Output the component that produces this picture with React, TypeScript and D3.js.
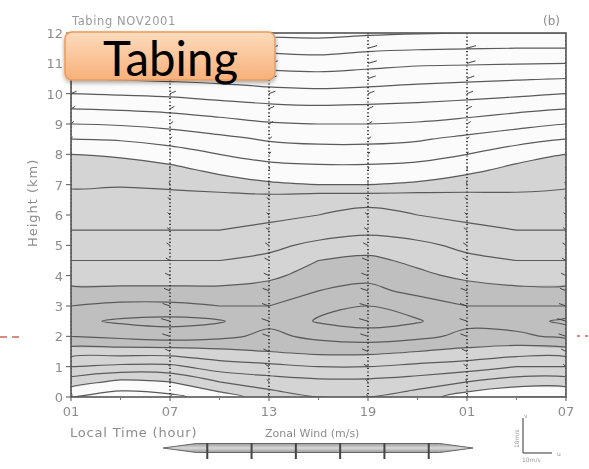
import React from "react";
import * as d3 from "d3";

// sampling grid of the zonal wind field (m/s)
const hours = [1, 4, 7, 10, 13, 16, 19, 22, 25, 28, 31];
const heights = [0, 0.5, 1, 1.5, 2, 2.5, 3, 3.5, 4, 4.5, 5, 5.5, 6, 6.5, 7, 7.5, 8, 8.5, 9, 9.5, 10, 10.5, 11, 11.5, 12];
const windRows = [
  [2, 3, 2.5, 1, -1, -2, -2, -1, 1, 2, 2],
  [-1, 0.5, 0, -2, -3, -3.5, -3.5, -3, -2, -1, -1],
  [-4, -3.5, -3.5, -5, -5.5, -6, -6, -5.5, -5, -4, -4],
  [-7, -7, -7, -7.5, -8, -8.5, -8.5, -8, -7.5, -7, -7],
  [-10, -10.5, -11, -10.5, -9.5, -10.5, -11, -10.5, -9.5, -9.5, -10.5],
  [-11.5, -12.3, -12.6, -12.2, -10.5, -12.2, -12.8, -12.2, -10.5, -11, -12.5],
  [-10, -10.5, -10.5, -10, -10, -11.5, -12, -11, -10, -10, -10],
  [-8.5, -8.5, -8.5, -8.5, -9, -10, -10.5, -9.5, -9, -8.5, -8.5],
  [-7, -7, -7, -7, -7.5, -9, -9.5, -8.5, -7.5, -7, -7],
  [-6, -6, -6, -6, -6.5, -8, -8.5, -7.5, -6.5, -6, -6],
  [-5, -5, -5, -5, -5.5, -6.5, -7, -6.5, -5.5, -5, -5],
  [-4, -4, -4, -4, -4.5, -5, -5.5, -5, -4.5, -4, -4],
  [-3.5, -3.5, -3.5, -3.5, -3.5, -4, -4.5, -4, -3.5, -3.5, -3.5],
  [-2.5, -3, -3, -3, -3, -3.5, -3.5, -3.5, -3, -2.5, -2.5],
  [-1.8, -1.8, -1.5, -1, -0.3, 0, 0, -0.3, -1, -1.5, -1.8],
  [-1, -1, -0.5, 0.5, 1.2, 1.5, 1.5, 1.2, 0.5, -0.5, -1],
  [0, 0.3, 1, 2, 2.8, 3, 3, 2.8, 2, 0.8, 0],
  [2, 2.2, 2.8, 3.5, 4.2, 4.5, 4.5, 4.2, 3.5, 2.8, 2],
  [4, 4.2, 4.6, 5.2, 5.8, 6, 6, 5.8, 5.3, 4.6, 4],
  [6, 6.2, 6.5, 7, 7.4, 7.6, 7.5, 7.3, 7, 6.5, 6],
  [8, 8.2, 8.4, 8.8, 9.2, 9.4, 9.2, 9, 8.7, 8.4, 8],
  [10, 10.2, 10.4, 10.6, 11, 11.2, 11, 10.6, 10.4, 10.2, 10],
  [12, 12.1, 12.3, 12.5, 12.8, 13, 12.6, 12.3, 12.2, 12.1, 12],
  [14, 14.1, 14.2, 14.4, 14.6, 14.8, 14.4, 14.2, 14.1, 14, 14],
  [16, 16, 16.1, 16.3, 16.5, 16.6, 16.3, 16.1, 16, 16, 16],
];

const lineLevels = [-12, -10, -8, -6, -4, -2, 0, 2, 4, 6, 8, 10, 12, 14, 16];
const shadeLevels = [0, -8]; // easterly -> light grey, below -8 -> darker
const shadeColors = ["#d4d4d4", "#bfbfbf"];
const vectorHours = [1, 7, 13, 19, 25, 31];
const hourTicks = [1, 7, 13, 19, 25, 31];
const hourLabels = ["01", "07", "13", "19", "01", "07"];
const minorHours = [4, 10, 16, 22, 28];
const heightTicks = [0, 1, 2, 3, 4, 5, 6, 7, 8, 9, 10, 11, 12];
const barTicks = [-10, -6, -2, 2, 6, 10];

const W = 589;
const H = 469;
const plot = { left: 71, right: 566, top: 33, bottom: 397 };

export default function App() {
  const x = d3.scaleLinear().domain([1, 31]).range([plot.left, plot.right]);
  const y = d3.scaleLinear().domain([0, 12]).range([plot.bottom, plot.top]);

  const nx = hours.length;
  const ny = heights.length;
  const dh = hours[1] - hours[0];
  const dz = heights[1] - heights[0];
  const values = windRows.flat();
  const negValues = values.map((v) => -v);

  const contours = d3.contours().size([nx, ny]);
  const line = d3
    .line<number[]>()
    .x((p) => x(hours[0] + (p[0] - 0.5) * dh))
    .y((p) => y(heights[0] + (p[1] - 0.5) * dz))
    .curve(d3.curveCatmullRomClosed.alpha(0.5));

  const ringPaths = (geo: any) => {
    const out: string[] = [];
    geo.coordinates.forEach((poly: number[][][]) => {
      let d = "";
      poly.forEach((ring) => {
        d += line(ring.slice(0, ring.length - 1)) || "";
      });
      out.push(d);
    });
    return out;
  };

  const shades = shadeLevels.map((lv, i) => ({
    color: shadeColors[i],
    paths: ringPaths(contours.contour(negValues, -lv)),
  }));
  const lines = lineLevels.map((lv) => ringPaths(contours.contour(values, lv)));

  const barX = d3.scaleLinear().domain([-14, 14]).range([163, 473]);

  return (
    <svg
      width={W}
      height={H}
      style={{ position: "absolute", left: 0, top: 0, background: "#fff" }}
      fontFamily="DejaVu Sans, sans-serif"
    >
      <defs>
        <clipPath id="plotclip">
          <rect x={plot.left} y={plot.top} width={plot.right - plot.left} height={plot.bottom - plot.top} />
        </clipPath>
        <filter id="soft">
          <feGaussianBlur stdDeviation="0.45" />
        </filter>
        <linearGradient id="boxgrad" x1="0" y1="0" x2="0" y2="1">
          <stop offset="0" stopColor="#fddcbd" />
          <stop offset="1" stopColor="#f7b07a" />
        </linearGradient>
        <linearGradient id="bargrad" x1="0" y1="0" x2="0" y2="1">
          <stop offset="0" stopColor="#9a9a9a" />
          <stop offset="0.5" stopColor="#d8d8d8" />
          <stop offset="1" stopColor="#9a9a9a" />
        </linearGradient>
        <filter id="shadow" x="-10%" y="-20%" width="120%" height="150%">
          <feDropShadow dx="0" dy="2" stdDeviation="2" floodColor="#000" floodOpacity="0.35" />
        </filter>
      </defs>

      <g filter="url(#soft)">
        <g clipPath="url(#plotclip)">
          <rect x={plot.left} y={plot.top} width={plot.right - plot.left} height={plot.bottom - plot.top} fill="#fbfbfb" />
          {shades.map((s, i) =>
            s.paths.map((d, j) => <path key={`s${i}-${j}`} d={d} fill={s.color} fillRule="evenodd" />)
          )}
          {lines.map((ps, i) =>
            ps.map((d, j) => (
              <path key={`l${i}-${j}`} d={d} fill="none" stroke="#5a5a5a" strokeWidth={1.2} />
            ))
          )}
          {vectorHours.map((hr) => {
            const ci = hours.indexOf(hr);
            const cx = x(hr);
            return (
              <g key={`v${hr}`}>
                <line x1={cx} x2={cx} y1={plot.top} y2={plot.bottom} stroke="#333" strokeWidth={1.8} strokeDasharray="1.2,2.4" />
                {heights.map((hz, r) => {
                  const u = windRows[r][ci];
                  const len = Math.max(-9, Math.min(9, u * 0.7));
                  return (
                    <line
                      key={hz}
                      x1={cx}
                      y1={y(hz)}
                      x2={cx + len}
                      y2={y(hz) - 2.5}
                      stroke="#444"
                      strokeWidth={1}
                    />
                  );
                })}
              </g>
            );
          })}
        </g>

        {/* frame and axes */}
        <rect x={plot.left} y={plot.top} width={plot.right - plot.left} height={plot.bottom - plot.top} fill="none" stroke="#555" strokeWidth={1.6} />
        {heightTicks.map((t) => (
          <g key={`yt${t}`}>
            <line x1={plot.left - 5} x2={plot.left} y1={y(t)} y2={y(t)} stroke="#555" />
            <text x={plot.left - 8} y={y(t) + 5} fontSize={13} fill="#8c8c8c" textAnchor="end">
              {t}
            </text>
          </g>
        ))}
        {hourTicks.map((t, i) => (
          <g key={`xt${i}`}>
            <line x1={x(t)} x2={x(t)} y1={plot.bottom} y2={plot.bottom + 4} stroke="#555" />
            <text x={x(t)} y={plot.bottom + 19} fontSize={13} fill="#8c8c8c" textAnchor="middle">
              {hourLabels[i]}
            </text>
          </g>
        ))}
        {minorHours.map((t) => (
          <line key={`mx${t}`} x1={x(t)} x2={x(t)} y1={plot.bottom} y2={plot.bottom + 3} stroke="#777" />
        ))}

        <text x={72} y={25} fontSize={11.5} fill="#9a9a9a" letterSpacing={0.6}>
          Tabing  NOV2001
        </text>
        <text x={560} y={25} fontSize={12} fill="#8c8c8c" textAnchor="end">
          (b)
        </text>
        <text
          transform={`translate(37,${y(6.4)}) rotate(-90)`}
          fontSize={13}
          fill="#8c8c8c"
          textAnchor="middle"
          letterSpacing={1}
        >
          Height (km)
        </text>
        <text x={70} y={437} fontSize={13} fill="#8c8c8c" letterSpacing={0.8}>
          Local Time (hour)
        </text>
        <text x={265} y={437} fontSize={11} fill="#8c8c8c">
          Zonal Wind (m/s)
        </text>

        {/* colour bar */}
        <path
          d={`M${barX(-14)},${448} L${barX(-11)},${443.5} L${barX(11)},${443.5} L${barX(14)},${448} L${barX(11)},${452.5} L${barX(-11)},${452.5} Z`}
          fill="url(#bargrad)"
          stroke="#666"
          strokeWidth={1}
        />
        {barTicks.map((t) => (
          <line key={`bt${t}`} x1={barX(t)} x2={barX(t)} y1={443} y2={459} stroke="#444" strokeWidth={2} />
        ))}

        {/* vector scale */}
        <line x1={523} x2={523} y1={418} y2={453} stroke="#777" strokeWidth={1.5} />
        <line x1={523} x2={552} y1={453} y2={453} stroke="#777" strokeWidth={1.5} />
        <text x={524} y={418} fontSize={6} fill="#999">v</text>
        <text x={557} y={456} fontSize={6} fill="#999">u</text>
        <text x={522} y={462} fontSize={6} fill="#999">10m/s</text>
        <text transform="translate(519,448) rotate(-90)" fontSize={6} fill="#999">10m/s</text>
      </g>

      {/* slide decoration */}
      <line x1={0} x2={20} y1={337} y2={337} stroke="#d0654f" strokeWidth={1.5} strokeDasharray="7,5" />
      <line x1={577} x2={589} y1={336} y2={336} stroke="#d0654f" strokeWidth={1.5} strokeDasharray="3,5" />

      <g filter="url(#shadow)">
        <rect x={65} y={32} width={210} height={48} rx={7} fill="url(#boxgrad)" stroke="#e99a5c" strokeWidth={1.5} />
      </g>
      <text x={103} y={76} fontSize={48} fontFamily="Lato, sans-serif" fill="#000" textLength={135} lengthAdjust="spacingAndGlyphs">
        Tabing
      </text>
    </svg>
  );
}
